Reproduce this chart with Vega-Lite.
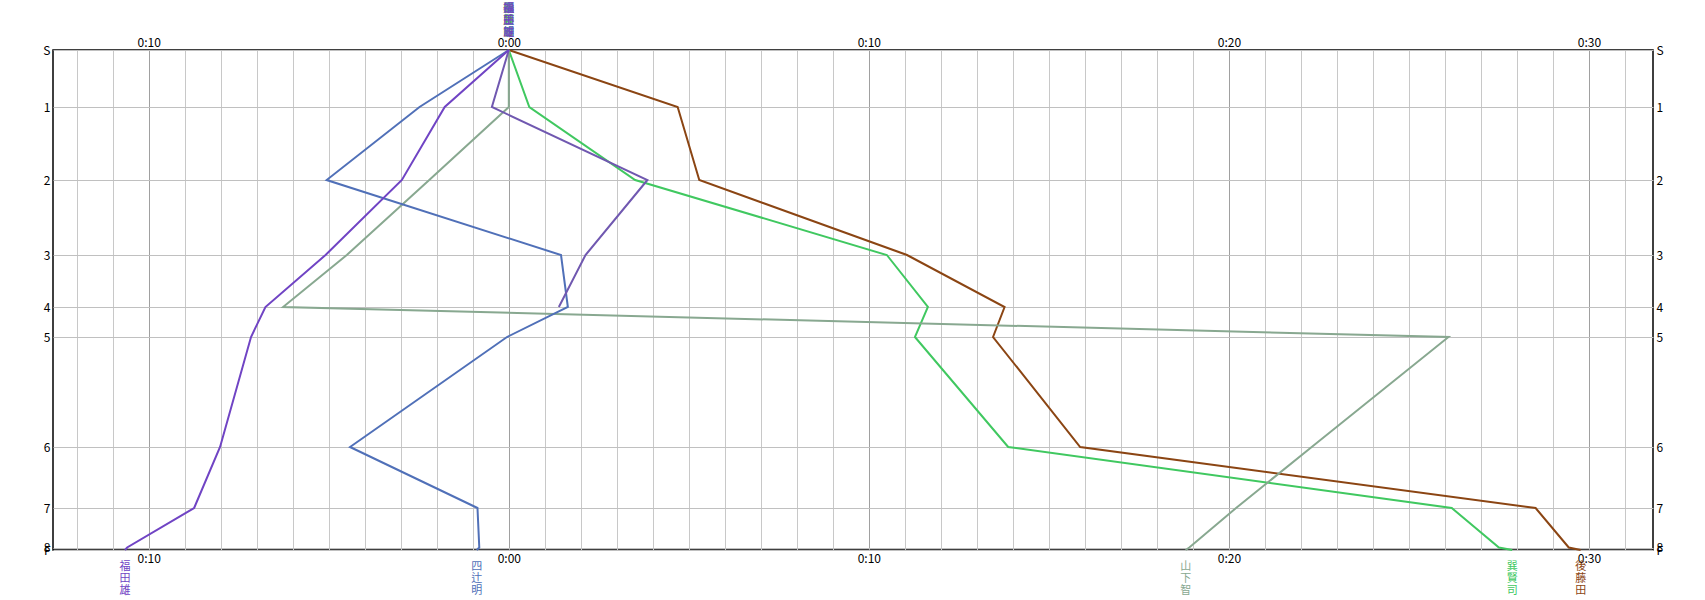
{
  "$schema": "https://vega.github.io/schema/vega-lite/v6.json",
  "width": 1600,
  "height": 500,
  "autosize": {"type": "none"},
  "padding": {"left": 53, "top": 50, "right": 52, "bottom": 50},
  "background": "white",
  "config": {
    "view": {"stroke": "black", "strokeWidth": 1.5},
    "axis": {"labelFont": "Noto Sans CJK JP", "labelFontSize": 12, "labelColor": "black", "domain": false, "ticks": false, "title": null, "labelOverlap": false, "labelFlush": false, "labelBound": false}
  },
  "datasets": {
    "splits": [
      {"runner": "後藤田", "ctrl": "S", "pos": 0, "gap": 0},
      {"runner": "後藤田", "ctrl": "1", "pos": 57, "gap": 4.69},
      {"runner": "後藤田", "ctrl": "2", "pos": 130, "gap": 5.29},
      {"runner": "後藤田", "ctrl": "3", "pos": 205, "gap": 11.06},
      {"runner": "後藤田", "ctrl": "4", "pos": 257, "gap": 13.77},
      {"runner": "後藤田", "ctrl": "5", "pos": 287, "gap": 13.45},
      {"runner": "後藤田", "ctrl": "6", "pos": 397, "gap": 15.87},
      {"runner": "後藤田", "ctrl": "7", "pos": 458, "gap": 28.52},
      {"runner": "後藤田", "ctrl": "8", "pos": 497.5, "gap": 29.44},
      {"runner": "後藤田", "ctrl": "F", "pos": 500, "gap": 29.77},
      {"runner": "巽賢司", "ctrl": "S", "pos": 0, "gap": 0},
      {"runner": "巽賢司", "ctrl": "1", "pos": 57, "gap": 0.57},
      {"runner": "巽賢司", "ctrl": "2", "pos": 130, "gap": 3.51},
      {"runner": "巽賢司", "ctrl": "3", "pos": 205, "gap": 10.5},
      {"runner": "巽賢司", "ctrl": "4", "pos": 257, "gap": 11.64},
      {"runner": "巽賢司", "ctrl": "5", "pos": 287, "gap": 11.28},
      {"runner": "巽賢司", "ctrl": "6", "pos": 397, "gap": 13.87},
      {"runner": "巽賢司", "ctrl": "7", "pos": 458, "gap": 26.19},
      {"runner": "巽賢司", "ctrl": "8", "pos": 497.5, "gap": 27.5},
      {"runner": "巽賢司", "ctrl": "F", "pos": 500, "gap": 27.87},
      {"runner": "山下智", "ctrl": "S", "pos": 0, "gap": 0},
      {"runner": "山下智", "ctrl": "1", "pos": 57, "gap": 0},
      {"runner": "山下智", "ctrl": "2", "pos": 130, "gap": -2.21},
      {"runner": "山下智", "ctrl": "3", "pos": 205, "gap": -4.5},
      {"runner": "山下智", "ctrl": "4", "pos": 257, "gap": -6.27},
      {"runner": "山下智", "ctrl": "5", "pos": 287, "gap": 26.1},
      {"runner": "山下智", "ctrl": "6", "pos": 397, "gap": 22.3},
      {"runner": "山下智", "ctrl": "7", "pos": 458, "gap": 20.2},
      {"runner": "山下智", "ctrl": "8", "pos": 497.5, "gap": 18.9},
      {"runner": "山下智", "ctrl": "F", "pos": 500, "gap": 18.8},
      {"runner": "四辻明", "ctrl": "S", "pos": 0, "gap": 0},
      {"runner": "四辻明", "ctrl": "1", "pos": 57, "gap": -2.48},
      {"runner": "四辻明", "ctrl": "2", "pos": 130, "gap": -5.06},
      {"runner": "四辻明", "ctrl": "3", "pos": 205, "gap": 1.45},
      {"runner": "四辻明", "ctrl": "4", "pos": 257, "gap": 1.64},
      {"runner": "四辻明", "ctrl": "5", "pos": 287, "gap": -0.05},
      {"runner": "四辻明", "ctrl": "6", "pos": 397, "gap": -4.41},
      {"runner": "四辻明", "ctrl": "7", "pos": 458, "gap": -0.87},
      {"runner": "四辻明", "ctrl": "8", "pos": 497.5, "gap": -0.82},
      {"runner": "四辻明", "ctrl": "F", "pos": 500, "gap": -0.89},
      {"runner": "選手6", "ctrl": "S", "pos": 0, "gap": 0},
      {"runner": "選手6", "ctrl": "1", "pos": 57, "gap": -0.47},
      {"runner": "選手6", "ctrl": "2", "pos": 130, "gap": 3.85},
      {"runner": "選手6", "ctrl": "3", "pos": 205, "gap": 2.13},
      {"runner": "選手6", "ctrl": "4", "pos": 257, "gap": 1.39},
      {"runner": "福田雄", "ctrl": "S", "pos": 0, "gap": 0},
      {"runner": "福田雄", "ctrl": "1", "pos": 57, "gap": -1.78},
      {"runner": "福田雄", "ctrl": "2", "pos": 130, "gap": -2.97},
      {"runner": "福田雄", "ctrl": "3", "pos": 205, "gap": -5.09},
      {"runner": "福田雄", "ctrl": "4", "pos": 257, "gap": -6.76},
      {"runner": "福田雄", "ctrl": "5", "pos": 287, "gap": -7.16},
      {"runner": "福田雄", "ctrl": "6", "pos": 397, "gap": -8.02},
      {"runner": "福田雄", "ctrl": "7", "pos": 458, "gap": -8.74},
      {"runner": "福田雄", "ctrl": "8", "pos": 497.5, "gap": -10.6},
      {"runner": "福田雄", "ctrl": "F", "pos": 500, "gap": -10.66}
    ],
    "runners": [
      {"runner": "福田雄", "vert": "福\n田\n雄"},
      {"runner": "四辻明", "vert": "四\n辻\n明"},
      {"runner": "山下智", "vert": "山\n下\n智"},
      {"runner": "巽賢司", "vert": "巽\n賢\n司"},
      {"runner": "後藤田", "vert": "後\n藤\n田"},
      {"runner": "選手6", "vert": "選\n手\n6"}
    ]
  },
  "layer": [
    {
      "data": {"name": "splits"},
      "mark": {"type": "line", "opacity": 0},
      "encoding": {
        "x": {"field": "gap", "type": "quantitative",
          "scale": {"domain": [-12.66, 31.78], "nice": false, "zero": false},
          "axis": {"orient": "top", "grid": false, "values": [-10, 0, 10, 20, 30], "labelPadding": 1,
            "labelExpr": "'0:' + (abs(datum.value) < 10 ? '0' : '') + abs(datum.value)"}},
        "y": {"field": "pos", "type": "quantitative",
          "scale": {"domain": [0, 500], "reverse": true, "nice": false, "zero": false},
          "axis": {"orient": "right", "grid": false, "values": [0, 57, 130, 205, 257, 287, 397, 458, 497.5, 500], "labelPadding": 3, "labelBaseline": "middle",
            "labelExpr": "datum.value == 0 ? 'S' : datum.value == 57 ? '1' : datum.value == 130 ? '2' : datum.value == 205 ? '3' : datum.value == 257 ? '4' : datum.value == 287 ? '5' : datum.value == 397 ? '6' : datum.value == 458 ? '7' : datum.value == 497.5 ? '8' : 'F'"}},
        "detail": {"field": "runner", "type": "nominal"},
        "order": {"field": "pos", "type": "quantitative"}
      }
    },
    {
      "data": {"name": "splits"},
      "mark": {"type": "line", "strokeWidth": 2},
      "encoding": {
        "x": {"field": "gap", "type": "quantitative",
          "axis": {"orient": "bottom", "grid": true,
            "values": [-12, -11, -10, -9, -8, -7, -6, -5, -4, -3, -2, -1, 0, 1, 2, 3, 4, 5, 6, 7, 8, 9, 10, 11, 12, 13, 14, 15, 16, 17, 18, 19, 20, 21, 22, 23, 24, 25, 26, 27, 28, 29, 30, 31],
            "gridColor": {"condition": {"test": "datum.value % 10 === 0", "value": "#a0a0a0"}, "value": "#c8c8c8"},
            "labelPadding": 3,
            "labelExpr": "datum.value % 10 === 0 ? '0:' + (abs(datum.value) < 10 ? '0' : '') + abs(datum.value) : ''"}},
        "y": {"field": "pos", "type": "quantitative",
          "axis": {"orient": "left", "grid": true, "gridColor": "#c0c0c0", "values": [0, 57, 130, 205, 257, 287, 397, 458, 497.5, 500], "labelPadding": 3, "labelBaseline": "middle",
            "labelExpr": "datum.value == 0 ? 'S' : datum.value == 57 ? '1' : datum.value == 130 ? '2' : datum.value == 205 ? '3' : datum.value == 257 ? '4' : datum.value == 287 ? '5' : datum.value == 397 ? '6' : datum.value == 458 ? '7' : datum.value == 497.5 ? '8' : 'F'"}},
        "color": {"field": "runner", "type": "nominal",
          "scale": {"domain": ["福田雄", "四辻明", "山下智", "巽賢司", "後藤田", "選手6"], "range": ["#7044C4", "#5070B8", "#88A890", "#40C860", "#8B4513", "#7058B0"]},
          "legend": null},
        "order": {"field": "pos", "type": "quantitative"}
      }
    },
    {
      "data": {"name": "splits"},
      "transform": [
        {"filter": "datum.ctrl === 'S'"},
        {"lookup": "runner", "from": {"data": {"name": "runners"}, "key": "runner", "fields": ["vert"]}}
      ],
      "mark": {"type": "text", "font": "Noto Sans CJK JP", "fontSize": 11, "lineHeight": 12, "lineBreak": "\n", "align": "center", "baseline": "top", "dy": -47},
      "encoding": {
        "x": {"field": "gap", "type": "quantitative", "axis": null},
        "y": {"field": "pos", "type": "quantitative", "axis": null},
        "text": {"field": "vert"},
        "color": {"field": "runner", "type": "nominal", "legend": null}
      }
    },
    {
      "data": {"name": "splits"},
      "transform": [
        {"filter": "datum.ctrl === 'F'"},
        {"lookup": "runner", "from": {"data": {"name": "runners"}, "key": "runner", "fields": ["vert"]}}
      ],
      "mark": {"type": "text", "font": "Noto Sans CJK JP", "fontSize": 11, "lineHeight": 12, "lineBreak": "\n", "align": "center", "baseline": "top", "dy": 11},
      "encoding": {
        "x": {"field": "gap", "type": "quantitative", "axis": null},
        "y": {"field": "pos", "type": "quantitative", "axis": null},
        "text": {"field": "vert"},
        "color": {"field": "runner", "type": "nominal", "legend": null}
      }
    }
  ],
  "resolve": {"axis": {"x": "independent", "y": "independent"}}
}
